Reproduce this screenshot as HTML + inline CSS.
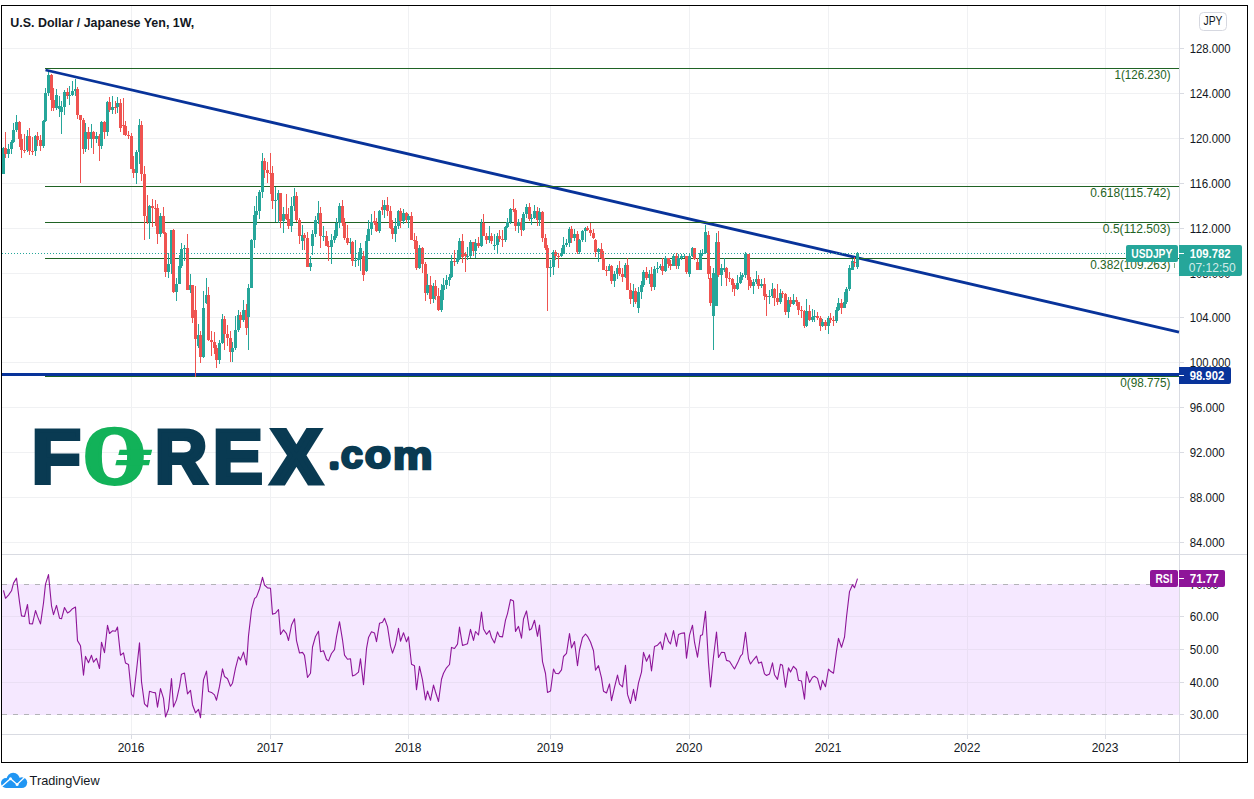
<!DOCTYPE html>
<html lang="en"><head><meta charset="utf-8"><title>U.S. Dollar / Japanese Yen, 1W</title>
<style>html,body{margin:0;padding:0;background:#fff;}body{width:1254px;height:799px;overflow:hidden;position:relative;}svg{position:absolute;left:0;top:0;display:block;}text{font-family:"Liberation Sans", "DejaVu Sans", sans-serif;}</style></head><body>
<svg width="1254" height="799" viewBox="0 0 1254 799">
<rect x="0" y="0" width="1254" height="799" fill="#fff"/>
<rect x="2" y="584" width="1177" height="131" fill="#f5e8ff"/>
<g shape-rendering="crispEdges" stroke="#f0f1f3" stroke-width="1"><line x1="131.5" y1="6" x2="131.5" y2="554"/><line x1="270.5" y1="6" x2="270.5" y2="554"/><line x1="408.5" y1="6" x2="408.5" y2="554"/><line x1="550.5" y1="6" x2="550.5" y2="554"/><line x1="689.5" y1="6" x2="689.5" y2="554"/><line x1="828.5" y1="6" x2="828.5" y2="554"/><line x1="967.5" y1="6" x2="967.5" y2="554"/><line x1="1105.5" y1="6" x2="1105.5" y2="554"/><line x1="2" y1="48.5" x2="1179" y2="48.5"/><line x1="2" y1="93.5" x2="1179" y2="93.5"/><line x1="2" y1="138.5" x2="1179" y2="138.5"/><line x1="2" y1="183.5" x2="1179" y2="183.5"/><line x1="2" y1="228.5" x2="1179" y2="228.5"/><line x1="2" y1="273.5" x2="1179" y2="273.5"/><line x1="2" y1="317.5" x2="1179" y2="317.5"/><line x1="2" y1="362.5" x2="1179" y2="362.5"/><line x1="2" y1="407.5" x2="1179" y2="407.5"/><line x1="2" y1="452.5" x2="1179" y2="452.5"/><line x1="2" y1="497.5" x2="1179" y2="497.5"/><line x1="2" y1="542.5" x2="1179" y2="542.5"/></g>
<g shape-rendering="crispEdges" stroke="#f0f1f3" stroke-width="1"><line x1="131.5" y1="555" x2="131.5" y2="584"/><line x1="131.5" y1="715" x2="131.5" y2="734"/><line x1="270.5" y1="555" x2="270.5" y2="584"/><line x1="270.5" y1="715" x2="270.5" y2="734"/><line x1="408.5" y1="555" x2="408.5" y2="584"/><line x1="408.5" y1="715" x2="408.5" y2="734"/><line x1="550.5" y1="555" x2="550.5" y2="584"/><line x1="550.5" y1="715" x2="550.5" y2="734"/><line x1="689.5" y1="555" x2="689.5" y2="584"/><line x1="689.5" y1="715" x2="689.5" y2="734"/><line x1="828.5" y1="555" x2="828.5" y2="584"/><line x1="828.5" y1="715" x2="828.5" y2="734"/><line x1="967.5" y1="555" x2="967.5" y2="584"/><line x1="967.5" y1="715" x2="967.5" y2="734"/><line x1="1105.5" y1="555" x2="1105.5" y2="584"/><line x1="1105.5" y1="715" x2="1105.5" y2="734"/></g><g shape-rendering="crispEdges" stroke="#eadff4" stroke-width="1"><line x1="131.5" y1="584" x2="131.5" y2="715"/><line x1="270.5" y1="584" x2="270.5" y2="715"/><line x1="408.5" y1="584" x2="408.5" y2="715"/><line x1="550.5" y1="584" x2="550.5" y2="715"/><line x1="689.5" y1="584" x2="689.5" y2="715"/><line x1="828.5" y1="584" x2="828.5" y2="715"/><line x1="967.5" y1="584" x2="967.5" y2="715"/><line x1="1105.5" y1="584" x2="1105.5" y2="715"/><line x1="2" y1="616.5" x2="1179" y2="616.5"/><line x1="2" y1="649.5" x2="1179" y2="649.5"/><line x1="2" y1="682.5" x2="1179" y2="682.5"/></g>
<g shape-rendering="crispEdges" stroke="#d9dbe2" stroke-width="1">
<line x1="2" y1="554.5" x2="1247" y2="554.5"/>
<line x1="2" y1="734.5" x2="1247" y2="734.5"/>
<line x1="1179.5" y1="6" x2="1179.5" y2="762"/>
<line x1="1179" y1="48.5" x2="1184" y2="48.5"/>
<line x1="1179" y1="93.5" x2="1184" y2="93.5"/>
<line x1="1179" y1="138.5" x2="1184" y2="138.5"/>
<line x1="1179" y1="183.5" x2="1184" y2="183.5"/>
<line x1="1179" y1="228.5" x2="1184" y2="228.5"/>
<line x1="1179" y1="273.5" x2="1184" y2="273.5"/>
<line x1="1179" y1="317.5" x2="1184" y2="317.5"/>
<line x1="1179" y1="362.5" x2="1184" y2="362.5"/>
<line x1="1179" y1="407.5" x2="1184" y2="407.5"/>
<line x1="1179" y1="452.5" x2="1184" y2="452.5"/>
<line x1="1179" y1="497.5" x2="1184" y2="497.5"/>
<line x1="1179" y1="542.5" x2="1184" y2="542.5"/>
<line x1="1179" y1="616.5" x2="1184" y2="616.5"/>
<line x1="1179" y1="649.5" x2="1184" y2="649.5"/>
<line x1="1179" y1="682.5" x2="1184" y2="682.5"/>
<line x1="1179" y1="714.5" x2="1184" y2="714.5"/>
<line x1="131.5" y1="735" x2="131.5" y2="739"/>
<line x1="270.5" y1="735" x2="270.5" y2="739"/>
<line x1="408.5" y1="735" x2="408.5" y2="739"/>
<line x1="550.5" y1="735" x2="550.5" y2="739"/>
<line x1="689.5" y1="735" x2="689.5" y2="739"/>
<line x1="828.5" y1="735" x2="828.5" y2="739"/>
<line x1="967.5" y1="735" x2="967.5" y2="739"/>
<line x1="1105.5" y1="735" x2="1105.5" y2="739"/>
</g>
<g shape-rendering="crispEdges" stroke="#b3b3b8" stroke-width="1" stroke-dasharray="5 6">
<line x1="2" y1="584.5" x2="1179" y2="584.5"/>
<line x1="2" y1="714.5" x2="1179" y2="714.5"/>
</g>
<line x1="2" y1="374.5" x2="1179" y2="374.5" stroke="#08339a" stroke-width="3" shape-rendering="crispEdges"/>
<line x1="45.5" y1="70" x2="1179" y2="332.2" stroke="#08339a" stroke-width="2.8" stroke-linecap="butt"/>
<g shape-rendering="crispEdges" stroke="#1f6324" stroke-width="1">
<line x1="45" y1="68.5" x2="1179" y2="68.5"/>
<line x1="45" y1="186.5" x2="1179" y2="186.5"/>
<line x1="45" y1="222.5" x2="1179" y2="222.5"/>
<line x1="45" y1="258.5" x2="1179" y2="258.5"/>
<line x1="45" y1="376.5" x2="1179" y2="376.5"/>
</g>
<g shape-rendering="crispEdges"><path fill="#26a69a" d="M3 147h1v27h-1zM2 148h3v26h-3z"/><path fill="#ef5350" d="M5 132h1v26h-1zM4 148h3v6h-3z"/><path fill="#26a69a" d="M8 144h1v14h-1zM7 149h3v5h-3z"/><path fill="#26a69a" d="M11 140h1v14h-1zM10 142h3v7h-3z"/><path fill="#26a69a" d="M13 123h1v20h-1zM12 130h3v12h-3z"/><path fill="#26a69a" d="M16 115h1v17h-1zM15 122h3v8h-3z"/><path fill="#ef5350" d="M19 121h1v26h-1zM18 122h3v17h-3z"/><path fill="#ef5350" d="M21 134h1v24h-1zM20 139h3v11h-3z"/><path fill="#ef5350" d="M24 134h1v19h-1zM23 150h3v1h-3z"/><path fill="#26a69a" d="M27 130h1v22h-1zM26 136h3v14h-3z"/><path fill="#ef5350" d="M29 128h1v27h-1zM28 136h3v15h-3z"/><path fill="#ef5350" d="M32 137h1v18h-1zM31 151h3v1h-3z"/><path fill="#26a69a" d="M35 135h1v21h-1zM34 136h3v15h-3z"/><path fill="#ef5350" d="M37 132h1v14h-1zM36 136h3v4h-3z"/><path fill="#ef5350" d="M40 135h1v16h-1zM39 140h3v6h-3z"/><path fill="#26a69a" d="M43 120h1v28h-1zM42 121h3v25h-3z"/><path fill="#26a69a" d="M45 88h1v34h-1zM44 93h3v28h-3z"/><path fill="#26a69a" d="M48 72h1v24h-1zM47 75h3v18h-3z"/><path fill="#ef5350" d="M51 74h1v37h-1zM50 75h3v25h-3z"/><path fill="#ef5350" d="M53 88h1v23h-1zM52 100h3v8h-3z"/><path fill="#26a69a" d="M56 89h1v21h-1zM55 95h3v13h-3z"/><path fill="#26a69a" d="M59 96h1v21h-1zM58 106h3v3h-3z"/><path fill="#26a69a" d="M61 101h1v33h-1zM60 107h3v5h-3z"/><path fill="#26a69a" d="M64 90h1v25h-1zM63 92h3v15h-3z"/><path fill="#ef5350" d="M67 88h1v11h-1zM66 92h3v4h-3z"/><path fill="#26a69a" d="M69 86h1v19h-1zM68 95h3v1h-3z"/><path fill="#26a69a" d="M72 81h1v15h-1zM71 91h3v4h-3z"/><path fill="#26a69a" d="M75 79h1v17h-1zM74 89h3v2h-3z"/><path fill="#ef5350" d="M77 87h1v32h-1zM76 89h3v26h-3z"/><path fill="#ef5350" d="M80 115h1v68h-1zM79 115h3v5h-3z"/><path fill="#ef5350" d="M83 118h1v36h-1zM82 120h3v29h-3z"/><path fill="#26a69a" d="M85 123h1v29h-1zM84 132h3v17h-3z"/><path fill="#ef5350" d="M88 127h1v23h-1zM87 132h3v7h-3z"/><path fill="#26a69a" d="M91 124h1v24h-1zM90 132h3v7h-3z"/><path fill="#ef5350" d="M93 131h1v23h-1zM92 132h3v7h-3z"/><path fill="#26a69a" d="M96 132h1v11h-1zM95 136h3v3h-3z"/><path fill="#ef5350" d="M99 134h1v27h-1zM98 136h3v10h-3z"/><path fill="#26a69a" d="M101 121h1v28h-1zM100 122h3v24h-3z"/><path fill="#ef5350" d="M104 121h1v18h-1zM103 122h3v10h-3z"/><path fill="#26a69a" d="M107 101h1v35h-1zM106 102h3v30h-3z"/><path fill="#ef5350" d="M109 97h1v15h-1zM108 102h3v8h-3z"/><path fill="#26a69a" d="M112 96h1v18h-1zM111 107h3v3h-3z"/><path fill="#ef5350" d="M115 101h1v13h-1zM114 107h3v1h-3z"/><path fill="#26a69a" d="M117 97h1v16h-1zM116 103h3v4h-3z"/><path fill="#ef5350" d="M120 99h1v33h-1zM119 103h3v25h-3z"/><path fill="#ef5350" d="M123 98h1v37h-1zM122 125h3v1h-3z"/><path fill="#ef5350" d="M125 121h1v15h-1zM124 126h3v9h-3z"/><path fill="#ef5350" d="M128 131h1v8h-1zM127 135h3v1h-3z"/><path fill="#ef5350" d="M131 133h1v36h-1zM130 136h3v33h-3z"/><path fill="#ef5350" d="M133 156h1v22h-1zM132 169h3v4h-3z"/><path fill="#26a69a" d="M136 150h1v34h-1zM135 152h3v21h-3z"/><path fill="#26a69a" d="M139 119h1v45h-1zM138 125h3v27h-3z"/><path fill="#ef5350" d="M141 121h1v60h-1zM140 125h3v49h-3z"/><path fill="#ef5350" d="M144 166h1v74h-1zM143 174h3v42h-3z"/><path fill="#ef5350" d="M147 195h1v29h-1zM146 216h3v6h-3z"/><path fill="#26a69a" d="M149 205h1v34h-1zM148 206h3v16h-3z"/><path fill="#ef5350" d="M152 199h1v28h-1zM151 206h3v2h-3z"/><path fill="#ef5350" d="M155 200h1v26h-1zM154 208h3v1h-3z"/><path fill="#ef5350" d="M157 204h1v40h-1zM156 208h3v26h-3z"/><path fill="#26a69a" d="M160 213h1v24h-1zM159 216h3v18h-3z"/><path fill="#ef5350" d="M163 207h1v27h-1zM162 216h3v17h-3z"/><path fill="#ef5350" d="M165 232h1v45h-1zM164 233h3v39h-3z"/><path fill="#26a69a" d="M168 253h1v25h-1zM167 264h3v8h-3z"/><path fill="#26a69a" d="M171 230h1v44h-1zM170 230h3v34h-3z"/><path fill="#ef5350" d="M173 229h1v64h-1zM172 230h3v62h-3z"/><path fill="#26a69a" d="M176 278h1v23h-1zM175 284h3v8h-3z"/><path fill="#26a69a" d="M179 255h1v29h-1zM178 266h3v18h-3z"/><path fill="#26a69a" d="M181 243h1v25h-1zM180 249h3v17h-3z"/><path fill="#26a69a" d="M184 245h1v16h-1zM183 248h3v1h-3z"/><path fill="#ef5350" d="M187 234h1v56h-1zM186 248h3v42h-3z"/><path fill="#26a69a" d="M190 274h1v19h-1zM189 285h3v5h-3z"/><path fill="#ef5350" d="M192 285h1v38h-1zM191 285h3v33h-3z"/><path fill="#ef5350" d="M195 286h1v91h-1zM194 310h3v29h-3z"/><path fill="#26a69a" d="M198 324h1v24h-1zM197 335h3v11h-3z"/><path fill="#ef5350" d="M200 331h1v32h-1zM199 335h3v22h-3z"/><path fill="#26a69a" d="M203 291h1v67h-1zM202 308h3v49h-3z"/><path fill="#26a69a" d="M206 278h1v26h-1zM205 295h3v8h-3z"/><path fill="#ef5350" d="M208 287h1v54h-1zM207 295h3v45h-3z"/><path fill="#ef5350" d="M211 331h1v25h-1zM210 340h3v2h-3z"/><path fill="#ef5350" d="M214 332h1v22h-1zM213 342h3v6h-3z"/><path fill="#ef5350" d="M216 345h1v23h-1zM215 348h3v12h-3z"/><path fill="#26a69a" d="M219 340h1v24h-1zM218 343h3v17h-3z"/><path fill="#26a69a" d="M222 314h1v30h-1zM221 319h3v24h-3z"/><path fill="#ef5350" d="M224 316h1v34h-1zM223 319h3v15h-3z"/><path fill="#ef5350" d="M227 325h1v21h-1zM226 334h3v4h-3z"/><path fill="#ef5350" d="M230 331h1v31h-1zM229 338h3v14h-3z"/><path fill="#26a69a" d="M232 342h1v20h-1zM231 348h3v4h-3z"/><path fill="#26a69a" d="M235 316h1v34h-1zM234 330h3v18h-3z"/><path fill="#26a69a" d="M238 310h1v22h-1zM237 315h3v15h-3z"/><path fill="#ef5350" d="M240 312h1v16h-1zM239 315h3v5h-3z"/><path fill="#26a69a" d="M243 300h1v22h-1zM242 310h3v10h-3z"/><path fill="#ef5350" d="M246 304h1v31h-1zM245 310h3v18h-3z"/><path fill="#26a69a" d="M248 284h1v66h-1zM247 288h3v29h-3z"/><path fill="#26a69a" d="M251 239h1v49h-1zM250 240h3v48h-3z"/><path fill="#26a69a" d="M254 206h1v42h-1zM253 215h3v25h-3z"/><path fill="#26a69a" d="M256 196h1v29h-1zM255 211h3v4h-3z"/><path fill="#26a69a" d="M259 190h1v29h-1zM258 192h3v19h-3z"/><path fill="#26a69a" d="M262 153h1v45h-1zM261 161h3v31h-3z"/><path fill="#ef5350" d="M264 158h1v20h-1zM263 161h3v9h-3z"/><path fill="#ef5350" d="M267 162h1v21h-1zM266 170h3v3h-3z"/><path fill="#ef5350" d="M270 153h1v41h-1zM269 173h3v1h-3z"/><path fill="#ef5350" d="M272 166h1v43h-1zM271 173h3v28h-3z"/><path fill="#26a69a" d="M275 187h1v35h-1zM274 200h3v1h-3z"/><path fill="#26a69a" d="M278 190h1v33h-1zM277 193h3v7h-3z"/><path fill="#ef5350" d="M280 193h1v35h-1zM279 193h3v28h-3z"/><path fill="#26a69a" d="M283 207h1v26h-1zM282 214h3v7h-3z"/><path fill="#ef5350" d="M286 194h1v26h-1zM285 214h3v5h-3z"/><path fill="#ef5350" d="M288 208h1v21h-1zM287 219h3v7h-3z"/><path fill="#26a69a" d="M291 197h1v35h-1zM290 206h3v20h-3z"/><path fill="#26a69a" d="M294 188h1v23h-1zM293 196h3v10h-3z"/><path fill="#ef5350" d="M296 192h1v30h-1zM295 196h3v24h-3z"/><path fill="#ef5350" d="M299 218h1v26h-1zM298 220h3v16h-3z"/><path fill="#26a69a" d="M302 225h1v25h-1zM301 235h3v6h-3z"/><path fill="#ef5350" d="M304 233h1v17h-1zM303 235h3v3h-3z"/><path fill="#ef5350" d="M307 232h1v35h-1zM306 238h3v29h-3z"/><path fill="#26a69a" d="M310 256h1v15h-1zM309 263h3v4h-3z"/><path fill="#26a69a" d="M312 230h1v25h-1zM311 234h3v12h-3z"/><path fill="#26a69a" d="M315 216h1v21h-1zM314 220h3v14h-3z"/><path fill="#26a69a" d="M318 201h1v23h-1zM317 213h3v7h-3z"/><path fill="#ef5350" d="M320 207h1v41h-1zM319 213h3v23h-3z"/><path fill="#26a69a" d="M323 226h1v15h-1zM322 236h3v1h-3z"/><path fill="#ef5350" d="M326 231h1v15h-1zM325 236h3v10h-3z"/><path fill="#ef5350" d="M328 241h1v20h-1zM327 246h3v1h-3z"/><path fill="#26a69a" d="M331 234h1v30h-1zM330 240h3v7h-3z"/><path fill="#26a69a" d="M334 230h1v13h-1zM333 236h3v4h-3z"/><path fill="#26a69a" d="M336 218h1v20h-1zM335 223h3v13h-3z"/><path fill="#26a69a" d="M339 203h1v25h-1zM338 206h3v17h-3z"/><path fill="#ef5350" d="M342 200h1v26h-1zM341 206h3v17h-3z"/><path fill="#ef5350" d="M344 218h1v22h-1zM343 223h3v15h-3z"/><path fill="#ef5350" d="M347 225h1v20h-1zM346 238h3v5h-3z"/><path fill="#26a69a" d="M350 238h1v15h-1zM349 242h3v1h-3z"/><path fill="#ef5350" d="M352 241h1v25h-1zM351 242h3v19h-3z"/><path fill="#26a69a" d="M355 240h1v27h-1zM354 260h3v1h-3z"/><path fill="#26a69a" d="M358 252h1v14h-1zM357 258h3v2h-3z"/><path fill="#26a69a" d="M360 243h1v28h-1zM359 248h3v10h-3z"/><path fill="#ef5350" d="M363 251h1v30h-1zM362 256h3v19h-3z"/><path fill="#26a69a" d="M366 235h1v37h-1zM365 241h3v30h-3z"/><path fill="#26a69a" d="M368 220h1v21h-1zM367 229h3v12h-3z"/><path fill="#26a69a" d="M371 214h1v21h-1zM370 222h3v7h-3z"/><path fill="#ef5350" d="M374 211h1v14h-1zM373 221h3v2h-3z"/><path fill="#ef5350" d="M376 218h1v14h-1zM375 223h3v8h-3z"/><path fill="#26a69a" d="M379 210h1v23h-1zM378 211h3v20h-3z"/><path fill="#ef5350" d="M382 200h1v15h-1zM381 207h3v3h-3z"/><path fill="#26a69a" d="M384 200h1v18h-1zM383 205h3v5h-3z"/><path fill="#ef5350" d="M387 197h1v19h-1zM386 205h3v6h-3z"/><path fill="#ef5350" d="M390 206h1v23h-1zM389 211h3v17h-3z"/><path fill="#ef5350" d="M392 220h1v19h-1zM391 228h3v6h-3z"/><path fill="#26a69a" d="M395 218h1v24h-1zM394 226h3v8h-3z"/><path fill="#26a69a" d="M398 210h1v19h-1zM397 211h3v15h-3z"/><path fill="#ef5350" d="M400 208h1v20h-1zM399 211h3v10h-3z"/><path fill="#26a69a" d="M403 209h1v15h-1zM402 213h3v8h-3z"/><path fill="#ef5350" d="M406 212h1v11h-1zM405 213h3v7h-3z"/><path fill="#26a69a" d="M408 214h1v14h-1zM407 216h3v4h-3z"/><path fill="#ef5350" d="M411 212h1v28h-1zM410 216h3v24h-3z"/><path fill="#ef5350" d="M414 233h1v16h-1zM413 240h3v1h-3z"/><path fill="#ef5350" d="M416 236h1v34h-1zM415 241h3v27h-3z"/><path fill="#26a69a" d="M419 245h1v24h-1zM418 248h3v20h-3z"/><path fill="#ef5350" d="M422 247h1v26h-1zM421 248h3v16h-3z"/><path fill="#ef5350" d="M425 262h1v39h-1zM424 264h3v29h-3z"/><path fill="#26a69a" d="M427 274h1v21h-1zM426 285h3v8h-3z"/><path fill="#ef5350" d="M430 276h1v28h-1zM429 285h3v14h-3z"/><path fill="#26a69a" d="M433 283h1v20h-1zM432 286h3v13h-3z"/><path fill="#ef5350" d="M435 280h1v20h-1zM434 286h3v10h-3z"/><path fill="#ef5350" d="M438 288h1v23h-1zM437 296h3v14h-3z"/><path fill="#26a69a" d="M441 284h1v28h-1zM440 290h3v20h-3z"/><path fill="#26a69a" d="M443 278h1v22h-1zM442 285h3v5h-3z"/><path fill="#26a69a" d="M446 275h1v14h-1zM445 280h3v5h-3z"/><path fill="#26a69a" d="M449 274h1v12h-1zM448 277h3v3h-3z"/><path fill="#26a69a" d="M451 255h1v23h-1zM450 261h3v16h-3z"/><path fill="#ef5350" d="M454 250h1v16h-1zM453 261h3v1h-3z"/><path fill="#26a69a" d="M457 250h1v14h-1zM456 258h3v4h-3z"/><path fill="#26a69a" d="M459 238h1v22h-1zM458 241h3v17h-3z"/><path fill="#ef5350" d="M462 234h1v29h-1zM461 241h3v16h-3z"/><path fill="#ef5350" d="M465 252h1v20h-1zM464 254h3v2h-3z"/><path fill="#26a69a" d="M467 247h1v13h-1zM466 256h3v1h-3z"/><path fill="#26a69a" d="M470 240h1v18h-1zM469 242h3v14h-3z"/><path fill="#ef5350" d="M473 242h1v14h-1zM472 242h3v9h-3z"/><path fill="#26a69a" d="M475 239h1v19h-1zM474 243h3v8h-3z"/><path fill="#ef5350" d="M478 237h1v11h-1zM477 243h3v3h-3z"/><path fill="#26a69a" d="M481 219h1v28h-1zM480 223h3v23h-3z"/><path fill="#ef5350" d="M483 214h1v22h-1zM482 223h3v13h-3z"/><path fill="#ef5350" d="M486 233h1v11h-1zM485 236h3v4h-3z"/><path fill="#26a69a" d="M489 226h1v17h-1zM488 236h3v4h-3z"/><path fill="#ef5350" d="M491 233h1v11h-1zM490 236h3v5h-3z"/><path fill="#26a69a" d="M494 234h1v16h-1zM493 245h3v1h-3z"/><path fill="#26a69a" d="M497 233h1v21h-1zM496 236h3v9h-3z"/><path fill="#ef5350" d="M499 230h1v12h-1zM498 236h3v3h-3z"/><path fill="#ef5350" d="M502 230h1v17h-1zM501 239h3v1h-3z"/><path fill="#26a69a" d="M505 226h1v16h-1zM504 227h3v13h-3z"/><path fill="#26a69a" d="M507 218h1v10h-1zM506 222h3v5h-3z"/><path fill="#26a69a" d="M510 208h1v16h-1zM509 209h3v13h-3z"/><path fill="#ef5350" d="M513 199h1v13h-1zM512 209h3v1h-3z"/><path fill="#ef5350" d="M515 208h1v23h-1zM514 210h3v16h-3z"/><path fill="#26a69a" d="M518 219h1v14h-1zM517 222h3v4h-3z"/><path fill="#ef5350" d="M521 218h1v18h-1zM520 222h3v8h-3z"/><path fill="#26a69a" d="M523 212h1v19h-1zM522 214h3v16h-3z"/><path fill="#26a69a" d="M526 204h1v14h-1zM525 207h3v7h-3z"/><path fill="#ef5350" d="M529 203h1v18h-1zM528 207h3v12h-3z"/><path fill="#26a69a" d="M531 214h1v11h-1zM530 218h3v1h-3z"/><path fill="#26a69a" d="M534 205h1v14h-1zM533 211h3v7h-3z"/><path fill="#ef5350" d="M537 207h1v19h-1zM536 211h3v9h-3z"/><path fill="#26a69a" d="M539 208h1v18h-1zM538 212h3v8h-3z"/><path fill="#ef5350" d="M542 211h1v31h-1zM541 212h3v26h-3z"/><path fill="#ef5350" d="M545 234h1v16h-1zM544 238h3v10h-3z"/><path fill="#ef5350" d="M547 245h1v66h-1zM546 248h3v20h-3z"/><path fill="#26a69a" d="M550 260h1v17h-1zM549 267h3v1h-3z"/><path fill="#26a69a" d="M553 250h1v25h-1zM552 252h3v15h-3z"/><path fill="#ef5350" d="M555 250h1v10h-1zM554 252h3v4h-3z"/><path fill="#ef5350" d="M558 253h1v15h-1zM557 256h3v1h-3z"/><path fill="#26a69a" d="M561 248h1v9h-1zM560 254h3v2h-3z"/><path fill="#26a69a" d="M563 237h1v17h-1zM562 245h3v9h-3z"/><path fill="#26a69a" d="M566 239h1v8h-1zM565 243h3v2h-3z"/><path fill="#26a69a" d="M569 227h1v20h-1zM568 229h3v14h-3z"/><path fill="#ef5350" d="M571 226h1v17h-1zM570 229h3v9h-3z"/><path fill="#26a69a" d="M574 229h1v12h-1zM573 234h3v4h-3z"/><path fill="#ef5350" d="M577 231h1v23h-1zM576 234h3v18h-3z"/><path fill="#26a69a" d="M579 239h1v15h-1zM578 240h3v12h-3z"/><path fill="#26a69a" d="M582 230h1v12h-1zM581 231h3v9h-3z"/><path fill="#26a69a" d="M585 227h1v15h-1zM584 228h3v3h-3z"/><path fill="#ef5350" d="M587 226h1v5h-1zM586 228h3v2h-3z"/><path fill="#ef5350" d="M590 223h1v13h-1zM589 230h3v3h-3z"/><path fill="#ef5350" d="M593 229h1v10h-1zM592 233h3v5h-3z"/><path fill="#ef5350" d="M595 239h1v18h-1zM594 240h3v12h-3z"/><path fill="#26a69a" d="M598 248h1v14h-1zM597 249h3v3h-3z"/><path fill="#ef5350" d="M601 243h1v16h-1zM600 249h3v9h-3z"/><path fill="#ef5350" d="M603 251h1v19h-1zM602 258h3v12h-3z"/><path fill="#ef5350" d="M606 266h1v10h-1zM605 270h3v1h-3z"/><path fill="#26a69a" d="M609 264h1v7h-1zM608 266h3v5h-3z"/><path fill="#ef5350" d="M611 265h1v19h-1zM610 266h3v15h-3z"/><path fill="#26a69a" d="M614 271h1v16h-1zM613 274h3v7h-3z"/><path fill="#26a69a" d="M617 265h1v14h-1zM616 268h3v6h-3z"/><path fill="#ef5350" d="M619 261h1v15h-1zM618 268h3v6h-3z"/><path fill="#ef5350" d="M622 268h1v14h-1zM621 274h3v3h-3z"/><path fill="#26a69a" d="M625 263h1v15h-1zM624 265h3v12h-3z"/><path fill="#ef5350" d="M627 258h1v32h-1zM626 265h3v25h-3z"/><path fill="#ef5350" d="M630 283h1v21h-1zM629 290h3v9h-3z"/><path fill="#26a69a" d="M633 284h1v23h-1zM632 291h3v8h-3z"/><path fill="#ef5350" d="M635 288h1v16h-1zM634 291h3v11h-3z"/><path fill="#26a69a" d="M638 287h1v26h-1zM637 292h3v16h-3z"/><path fill="#26a69a" d="M641 281h1v18h-1zM640 285h3v7h-3z"/><path fill="#26a69a" d="M643 270h1v17h-1zM642 272h3v13h-3z"/><path fill="#ef5350" d="M646 267h1v13h-1zM645 272h3v6h-3z"/><path fill="#26a69a" d="M649 270h1v14h-1zM648 274h3v4h-3z"/><path fill="#ef5350" d="M651 267h1v24h-1zM650 274h3v13h-3z"/><path fill="#26a69a" d="M654 266h1v24h-1zM653 269h3v18h-3z"/><path fill="#26a69a" d="M657 262h1v11h-1zM656 268h3v1h-3z"/><path fill="#26a69a" d="M660 264h1v6h-1zM659 266h3v2h-3z"/><path fill="#ef5350" d="M662 258h1v17h-1zM661 266h3v5h-3z"/><path fill="#26a69a" d="M665 256h1v16h-1zM664 258h3v13h-3z"/><path fill="#ef5350" d="M668 258h1v10h-1zM667 258h3v6h-3z"/><path fill="#ef5350" d="M670 260h1v10h-1zM669 264h3v2h-3z"/><path fill="#26a69a" d="M673 254h1v12h-1zM672 256h3v10h-3z"/><path fill="#ef5350" d="M676 253h1v16h-1zM675 256h3v10h-3z"/><path fill="#26a69a" d="M678 254h1v15h-1zM677 258h3v8h-3z"/><path fill="#26a69a" d="M681 254h1v6h-1zM680 256h3v2h-3z"/><path fill="#26a69a" d="M684 254h1v4h-1zM683 256h3v1h-3z"/><path fill="#ef5350" d="M686 256h1v18h-1zM685 256h3v16h-3z"/><path fill="#26a69a" d="M689 254h1v23h-1zM688 256h3v18h-3z"/><path fill="#26a69a" d="M692 247h1v10h-1zM691 248h3v8h-3z"/><path fill="#ef5350" d="M694 248h1v12h-1zM693 248h3v11h-3z"/><path fill="#ef5350" d="M697 258h1v12h-1zM696 262h3v8h-3z"/><path fill="#26a69a" d="M700 250h1v20h-1zM699 253h3v17h-3z"/><path fill="#26a69a" d="M702 249h1v7h-1zM701 253h3v1h-3z"/><path fill="#26a69a" d="M705 225h1v29h-1zM704 232h3v21h-3z"/><path fill="#ef5350" d="M708 231h1v48h-1zM707 235h3v39h-3z"/><path fill="#ef5350" d="M710 266h1v40h-1zM709 278h3v25h-3z"/><path fill="#26a69a" d="M713 268h1v82h-1zM712 273h3v43h-3z"/><path fill="#26a69a" d="M716 233h1v73h-1zM715 242h3v64h-3z"/><path fill="#ef5350" d="M718 231h1v46h-1zM717 242h3v33h-3z"/><path fill="#26a69a" d="M721 264h1v22h-1zM720 268h3v7h-3z"/><path fill="#26a69a" d="M724 258h1v14h-1zM723 268h3v2h-3z"/><path fill="#ef5350" d="M726 267h1v19h-1zM725 268h3v10h-3z"/><path fill="#ef5350" d="M729 272h1v10h-1zM728 278h3v1h-3z"/><path fill="#ef5350" d="M732 278h1v14h-1zM731 279h3v6h-3z"/><path fill="#ef5350" d="M734 283h1v13h-1zM733 285h3v4h-3z"/><path fill="#26a69a" d="M737 275h1v15h-1zM736 283h3v6h-3z"/><path fill="#26a69a" d="M740 272h1v12h-1zM739 277h3v6h-3z"/><path fill="#26a69a" d="M742 273h1v7h-1zM741 275h3v2h-3z"/><path fill="#26a69a" d="M745 252h1v26h-1zM744 254h3v21h-3z"/><path fill="#ef5350" d="M748 254h1v36h-1zM747 254h3v26h-3z"/><path fill="#ef5350" d="M750 277h1v11h-1zM749 280h3v6h-3z"/><path fill="#26a69a" d="M753 279h1v15h-1zM752 282h3v4h-3z"/><path fill="#26a69a" d="M756 271h1v13h-1zM755 279h3v3h-3z"/><path fill="#ef5350" d="M758 275h1v14h-1zM757 279h3v7h-3z"/><path fill="#26a69a" d="M761 279h1v9h-1zM760 284h3v2h-3z"/><path fill="#ef5350" d="M764 278h1v22h-1zM763 284h3v12h-3z"/><path fill="#ef5350" d="M766 294h1v22h-1zM765 296h3v1h-3z"/><path fill="#26a69a" d="M769 290h1v14h-1zM768 296h3v1h-3z"/><path fill="#26a69a" d="M772 283h1v15h-1zM771 289h3v7h-3z"/><path fill="#ef5350" d="M774 288h1v18h-1zM773 289h3v9h-3z"/><path fill="#ef5350" d="M777 284h1v21h-1zM776 298h3v4h-3z"/><path fill="#26a69a" d="M780 289h1v15h-1zM779 293h3v9h-3z"/><path fill="#ef5350" d="M782 291h1v7h-1zM781 293h3v1h-3z"/><path fill="#ef5350" d="M785 293h1v22h-1zM784 294h3v18h-3z"/><path fill="#26a69a" d="M788 297h1v21h-1zM787 300h3v12h-3z"/><path fill="#ef5350" d="M790 297h1v10h-1zM789 300h3v4h-3z"/><path fill="#26a69a" d="M793 294h1v11h-1zM792 300h3v4h-3z"/><path fill="#ef5350" d="M796 297h1v9h-1zM795 300h3v2h-3z"/><path fill="#ef5350" d="M798 302h1v13h-1zM797 302h3v8h-3z"/><path fill="#ef5350" d="M801 306h1v12h-1zM800 310h3v1h-3z"/><path fill="#ef5350" d="M804 310h1v18h-1zM803 311h3v15h-3z"/><path fill="#26a69a" d="M806 299h1v28h-1zM805 311h3v15h-3z"/><path fill="#ef5350" d="M809 305h1v16h-1zM808 311h3v9h-3z"/><path fill="#26a69a" d="M812 309h1v13h-1zM811 317h3v3h-3z"/><path fill="#26a69a" d="M814 310h1v12h-1zM813 316h3v1h-3z"/><path fill="#ef5350" d="M817 312h1v8h-1zM816 316h3v2h-3z"/><path fill="#ef5350" d="M820 316h1v15h-1zM819 318h3v8h-3z"/><path fill="#26a69a" d="M822 319h1v8h-1zM821 322h3v4h-3z"/><path fill="#ef5350" d="M825 320h1v10h-1zM824 322h3v4h-3z"/><path fill="#26a69a" d="M828 316h1v18h-1zM827 318h3v8h-3z"/><path fill="#ef5350" d="M830 313h1v10h-1zM829 318h3v2h-3z"/><path fill="#ef5350" d="M833 316h1v10h-1zM832 320h3v1h-3z"/><path fill="#26a69a" d="M836 307h1v16h-1zM835 310h3v11h-3z"/><path fill="#26a69a" d="M838 298h1v13h-1zM837 303h3v7h-3z"/><path fill="#ef5350" d="M841 299h1v15h-1zM840 303h3v5h-3z"/><path fill="#26a69a" d="M844 292h1v16h-1zM843 302h3v6h-3z"/><path fill="#26a69a" d="M846 287h1v17h-1zM845 289h3v13h-3z"/><path fill="#26a69a" d="M849 265h1v26h-1zM848 268h3v21h-3z"/><path fill="#26a69a" d="M852 259h1v11h-1zM851 261h3v9h-3z"/><path fill="#ef5350" d="M854 257h1v10h-1zM853 262h3v1h-3z"/><path fill="#26a69a" d="M857 252h1v17h-1zM856 253h3v14h-3z"/></g>
<line x1="2" y1="253.5" x2="1126" y2="253.5" stroke="#26a69a" stroke-width="1" stroke-dasharray="1 2" shape-rendering="crispEdges"/>
<g fill="#1f6324" font-size="12" text-anchor="end">
<text x="1170.5" y="78.8" textLength="56.0" lengthAdjust="spacingAndGlyphs">1(126.230)</text>
<text x="1170.5" y="196.8" textLength="80.3" lengthAdjust="spacingAndGlyphs">0.618(115.742)</text>
<text x="1170.5" y="232.8" textLength="67.7" lengthAdjust="spacingAndGlyphs">0.5(112.503)</text>
<text x="1170.5" y="268.8" textLength="80.3" lengthAdjust="spacingAndGlyphs">0.382(109.263)</text>
<text x="1170.5" y="386.8" textLength="50.3" lengthAdjust="spacingAndGlyphs">0(98.775)</text>
</g>
<line x1="1174.5" y1="263" x2="1174.5" y2="268" stroke="#7fae82" stroke-width="1" shape-rendering="crispEdges"/>
<polyline fill="none" stroke="#8e1599" stroke-width="1.1" stroke-linejoin="round" points="3.5,590.3 5.5,598.3 8.5,595.1 11.5,590.8 13.5,583.1 16.5,578.1 19.5,601.9 21.5,615.9 24.5,616.5 27.5,604.5 29.5,623.6 32.5,623.9 35.5,610.5 37.5,616.4 40.5,623.9 43.5,603.0 45.5,584.1 48.5,574.6 51.5,605.8 53.5,614.6 56.5,605.4 59.5,618.2 61.5,618.8 64.5,607.5 67.5,613.0 69.5,611.8 72.5,608.7 75.5,607.1 77.5,640.6 80.5,645.7 83.5,675.2 85.5,656.4 88.5,662.8 91.5,655.3 93.5,662.2 96.5,658.4 99.5,668.5 101.5,642.2 104.5,652.7 107.5,625.4 109.5,633.5 112.5,630.8 115.5,631.2 117.5,627.1 120.5,655.3 123.5,652.9 125.5,663.1 128.5,664.4 131.5,694.4 133.5,696.8 136.5,670.5 139.5,642.9 141.5,681.6 144.5,703.9 147.5,706.8 149.5,691.3 152.5,692.3 155.5,692.9 157.5,707.2 160.5,688.6 163.5,698.4 165.5,717.0 168.5,709.0 171.5,678.6 173.5,706.9 176.5,699.9 179.5,686.7 181.5,674.2 184.5,673.1 187.5,693.9 190.5,690.4 192.5,704.7 195.5,712.8 198.5,709.4 200.5,717.8 203.5,679.9 206.5,671.1 208.5,691.4 211.5,692.4 214.5,694.9 216.5,700.2 219.5,686.4 222.5,668.8 224.5,676.5 227.5,678.7 230.5,686.2 232.5,683.2 235.5,668.2 238.5,656.7 240.5,660.1 243.5,652.1 246.5,665.0 248.5,635.9 251.5,609.7 254.5,598.6 256.5,596.9 259.5,589.0 262.5,577.4 264.5,585.0 267.5,587.9 270.5,588.2 272.5,614.1 275.5,613.2 278.5,609.5 280.5,634.5 283.5,629.9 286.5,633.6 288.5,640.5 291.5,625.1 294.5,618.8 296.5,640.7 299.5,653.0 302.5,652.4 304.5,655.4 307.5,677.5 310.5,673.2 312.5,647.0 315.5,636.5 318.5,631.3 320.5,651.7 323.5,650.8 326.5,659.5 328.5,660.9 331.5,653.5 334.5,649.7 336.5,636.6 339.5,621.7 342.5,639.8 344.5,655.1 347.5,659.3 350.5,658.7 352.5,675.9 355.5,674.7 358.5,672.1 360.5,658.7 363.5,684.6 366.5,648.7 368.5,637.6 371.5,631.8 374.5,632.9 376.5,641.7 379.5,623.3 382.5,622.3 384.5,618.3 387.5,626.6 390.5,646.2 392.5,653.1 395.5,644.5 398.5,628.3 400.5,641.2 403.5,632.7 406.5,641.8 408.5,636.8 411.5,664.2 414.5,665.7 416.5,689.7 419.5,666.3 422.5,679.9 425.5,699.9 427.5,691.0 430.5,700.3 433.5,685.1 435.5,692.0 438.5,701.5 441.5,679.2 443.5,673.3 446.5,667.8 449.5,664.5 451.5,647.4 454.5,648.5 457.5,644.1 459.5,627.1 462.5,645.4 465.5,644.5 467.5,643.7 470.5,629.3 473.5,640.4 475.5,631.5 478.5,635.0 481.5,612.0 483.5,628.9 486.5,634.3 489.5,630.7 491.5,637.5 494.5,642.9 497.5,631.9 499.5,636.4 502.5,636.9 505.5,620.2 507.5,613.6 510.5,599.6 513.5,601.1 515.5,631.4 518.5,626.4 521.5,638.2 523.5,619.0 526.5,610.9 529.5,630.1 531.5,628.7 534.5,620.2 537.5,636.3 539.5,625.1 542.5,661.6 545.5,673.5 547.5,692.5 550.5,691.1 553.5,669.0 555.5,673.2 558.5,673.8 561.5,669.8 563.5,656.5 566.5,653.4 569.5,633.5 571.5,647.9 574.5,641.5 577.5,665.8 579.5,650.0 582.5,637.7 585.5,634.0 587.5,636.3 590.5,642.0 593.5,650.7 595.5,670.2 598.5,665.6 601.5,677.9 603.5,691.2 606.5,693.0 609.5,683.9 611.5,700.7 614.5,687.3 617.5,675.1 619.5,684.1 622.5,686.9 625.5,665.2 627.5,694.4 630.5,703.5 633.5,689.3 635.5,700.6 638.5,682.9 641.5,672.1 643.5,652.4 646.5,661.2 649.5,654.8 651.5,671.0 654.5,646.5 657.5,645.2 660.5,641.9 662.5,649.5 665.5,633.0 668.5,641.4 670.5,644.0 673.5,630.5 676.5,646.3 678.5,634.5 681.5,633.2 684.5,632.9 686.5,658.1 689.5,635.2 692.5,625.2 694.5,642.2 697.5,657.1 700.5,635.5 702.5,634.8 705.5,611.3 708.5,662.9 710.5,687.0 713.5,656.7 716.5,632.0 718.5,657.5 721.5,652.3 724.5,652.5 726.5,660.4 729.5,661.2 732.5,666.0 734.5,669.0 737.5,663.1 740.5,656.2 742.5,654.0 745.5,632.3 748.5,658.7 750.5,664.0 753.5,659.8 756.5,656.2 758.5,663.2 761.5,662.0 764.5,673.9 766.5,675.5 769.5,673.9 772.5,662.9 774.5,674.7 777.5,679.4 780.5,664.2 782.5,665.3 785.5,687.3 788.5,667.8 790.5,672.1 793.5,666.3 796.5,669.5 798.5,680.3 801.5,681.0 804.5,699.1 806.5,671.6 809.5,682.5 812.5,677.2 814.5,676.3 817.5,678.4 820.5,689.8 822.5,680.4 825.5,686.7 828.5,669.0 830.5,671.3 833.5,673.2 836.5,651.1 838.5,638.4 841.5,647.3 844.5,637.2 846.5,617.0 849.5,591.6 852.5,584.7 854.5,587.8 857.5,578.6"/>
<g fill="#131722" font-size="12.2">
<text x="1189.7" y="52.9" textLength="41" lengthAdjust="spacingAndGlyphs">128.000</text>
<text x="1189.7" y="97.9" textLength="41" lengthAdjust="spacingAndGlyphs">124.000</text>
<text x="1189.7" y="142.9" textLength="41" lengthAdjust="spacingAndGlyphs">120.000</text>
<text x="1189.7" y="187.9" textLength="41" lengthAdjust="spacingAndGlyphs">116.000</text>
<text x="1189.7" y="232.9" textLength="41" lengthAdjust="spacingAndGlyphs">112.000</text>
<text x="1189.7" y="277.9" textLength="41" lengthAdjust="spacingAndGlyphs">108.000</text>
<text x="1189.7" y="321.9" textLength="41" lengthAdjust="spacingAndGlyphs">104.000</text>
<text x="1189.7" y="366.9" textLength="41" lengthAdjust="spacingAndGlyphs">100.000</text>
<text x="1189.7" y="411.9" textLength="35" lengthAdjust="spacingAndGlyphs">96.000</text>
<text x="1189.7" y="456.9" textLength="35" lengthAdjust="spacingAndGlyphs">92.000</text>
<text x="1189.7" y="501.9" textLength="35" lengthAdjust="spacingAndGlyphs">88.000</text>
<text x="1189.7" y="546.9" textLength="35" lengthAdjust="spacingAndGlyphs">84.000</text>
<text x="1189.7" y="588.9" textLength="29" lengthAdjust="spacingAndGlyphs">70.00</text>
<text x="1189.7" y="620.9" textLength="29" lengthAdjust="spacingAndGlyphs">60.00</text>
<text x="1189.7" y="653.9" textLength="29" lengthAdjust="spacingAndGlyphs">50.00</text>
<text x="1189.7" y="686.9" textLength="29" lengthAdjust="spacingAndGlyphs">40.00</text>
<text x="1189.7" y="718.9" textLength="29" lengthAdjust="spacingAndGlyphs">30.00</text>
</g>
<g fill="#131722" font-size="12.2" text-anchor="middle">
<text x="131.0" y="752" textLength="26.6" lengthAdjust="spacingAndGlyphs">2016</text>
<text x="270.0" y="752" textLength="26.6" lengthAdjust="spacingAndGlyphs">2017</text>
<text x="408.0" y="752" textLength="26.6" lengthAdjust="spacingAndGlyphs">2018</text>
<text x="550.0" y="752" textLength="26.6" lengthAdjust="spacingAndGlyphs">2019</text>
<text x="689.0" y="752" textLength="26.6" lengthAdjust="spacingAndGlyphs">2020</text>
<text x="828.0" y="752" textLength="26.6" lengthAdjust="spacingAndGlyphs">2021</text>
<text x="967.0" y="752" textLength="26.6" lengthAdjust="spacingAndGlyphs">2022</text>
<text x="1105.0" y="752" textLength="26.6" lengthAdjust="spacingAndGlyphs">2023</text>
</g>
<rect x="1126" y="245" width="52" height="17" rx="2" fill="#26a69a"/>
<text x="1151.8" y="258.2" font-size="12.2" font-weight="bold" fill="#fff" text-anchor="middle" textLength="41" lengthAdjust="spacingAndGlyphs">USDJPY</text>
<path d="M1179 245h61a2 2 0 0 1 2 2v27a2 2 0 0 1-2 2h-61z" fill="#26a69a"/>
<line x1="1179" y1="253.5" x2="1184" y2="253.5" stroke="#fff" stroke-width="1" shape-rendering="crispEdges"/>
<text x="1189.7" y="258.2" font-size="12.2" font-weight="bold" fill="#fff" textLength="41" lengthAdjust="spacingAndGlyphs">109.782</text>
<text x="1188.7" y="271.8" font-size="12.2" fill="#fff" fill-opacity="0.8" textLength="47" lengthAdjust="spacingAndGlyphs">07:12:50</text>
<path d="M1179 367h50a2 2 0 0 1 2 2v13a2 2 0 0 1-2 2h-50z" fill="#08339a"/>
<line x1="1179" y1="375.5" x2="1184" y2="375.5" stroke="#fff" stroke-width="1" shape-rendering="crispEdges"/>
<text x="1189.7" y="379.8" font-size="12.2" font-weight="bold" fill="#fff" textLength="34.5" lengthAdjust="spacingAndGlyphs">98.902</text>
<rect x="1150" y="570" width="28" height="17" rx="2" fill="#8e1599"/>
<text x="1164" y="583" font-size="12.2" font-weight="bold" fill="#fff" text-anchor="middle" textLength="17" lengthAdjust="spacingAndGlyphs">RSI</text>
<path d="M1179 570h44a2 2 0 0 1 2 2v13a2 2 0 0 1-2 2h-44z" fill="#8e1599"/>
<line x1="1179" y1="578.5" x2="1184" y2="578.5" stroke="#fff" stroke-width="1" shape-rendering="crispEdges"/>
<text x="1189.7" y="583" font-size="12.2" font-weight="bold" fill="#fff" textLength="29" lengthAdjust="spacingAndGlyphs">71.77</text>
<rect x="1199.5" y="12.5" width="27" height="18" rx="4" fill="#fff" stroke="#d6d8e0" stroke-width="1"/>
<text x="1213" y="25.4" font-size="12.2" fill="#131722" text-anchor="middle" textLength="19" lengthAdjust="spacingAndGlyphs">JPY</text>
<text x="10.3" y="26.6" font-size="12.2" font-weight="bold" fill="#131722" textLength="184" lengthAdjust="spacingAndGlyphs">U.S. Dollar / Japanese Yen, 1W,</text>
<g font-weight="bold"><text transform="translate(31.52 483.06) scale(1.0605 0.9947)" style="font-family:'Liberation Sans',sans-serif" font-size="76.4" fill="#093a52" stroke="#093a52" stroke-width="4.2" stroke-linejoin="miter">F</text><text transform="translate(82.95 482.86) scale(1.0253 1.0566)" style="font-family:'Liberation Serif',sans-serif" font-size="79" fill="#12b259" stroke="#12b259" stroke-width="3.5" stroke-linejoin="round">O</text><polygon points="119.6,449.7 152.2,449.7 150.9,455 118.3,455" fill="#12b259"/><polygon points="116.6,460 150.2,460 148.9,465.3 115.3,465.3" fill="#12b259"/><text transform="translate(154.64 483.06) scale(0.9530 0.9947)" style="font-family:'Liberation Sans',sans-serif" font-size="76.4" fill="#093a52" stroke="#093a52" stroke-width="4.2" stroke-linejoin="miter">R</text><text transform="translate(212.85 483.06) scale(0.9830 0.9965)" style="font-family:'Liberation Sans',sans-serif" font-size="76.4" fill="#093a52" stroke="#093a52" stroke-width="4.2" stroke-linejoin="miter">E</text><text transform="translate(271.47 482.80) scale(0.9914 1.0009)" style="font-family:'Liberation Sans',sans-serif" font-size="75.3" fill="#093a52" stroke="#093a52" stroke-width="5.0" stroke-linejoin="miter">X</text><text transform="translate(329.80 467.59) scale(0.9368 0.9368)" style="font-family:'Liberation Sans',sans-serif" font-size="34" fill="#093a52" stroke="#093a52" stroke-width="4.6" stroke-linejoin="round">.</text><text transform="translate(340.66 468.34) scale(0.9714 0.9505)" style="font-family:'Liberation Sans',sans-serif" font-size="41.2" fill="#093a52" stroke="#093a52" stroke-width="2.6" stroke-linejoin="round">c</text><text transform="translate(364.74 468.34) scale(1.0449 0.9505)" style="font-family:'Liberation Sans',sans-serif" font-size="41.2" fill="#093a52" stroke="#093a52" stroke-width="2.6" stroke-linejoin="round">o</text><text transform="translate(392.95 468.50) scale(1.0774 0.9576)" style="font-family:'Liberation Sans',sans-serif" font-size="41.2" fill="#093a52" stroke="#093a52" stroke-width="2.6" stroke-linejoin="miter">m</text></g>
<rect x="1.5" y="5.5" width="1246" height="757" fill="none" stroke="#000" stroke-width="1" shape-rendering="crispEdges"/>
<g>
<g fill="#2196f3"><circle cx="6" cy="783" r="5"/><circle cx="13.2" cy="779.3" r="6.6"/><circle cx="21.8" cy="782.6" r="5.4"/><rect x="6" y="780" width="15.8" height="8"/></g>
<polyline points="1.6,786.4 10.5,778.7 17.1,784.4 24.6,777.3" fill="none" stroke="#fff" stroke-width="1.3"/>
<circle cx="10.5" cy="778.7" r="1.5" fill="#fff"/><circle cx="17.1" cy="784.4" r="1.5" fill="#fff"/>
</g>
<text x="29.6" y="785.1" font-size="13" fill="#131722" textLength="70" lengthAdjust="spacingAndGlyphs">TradingView</text>
</svg></body></html>
